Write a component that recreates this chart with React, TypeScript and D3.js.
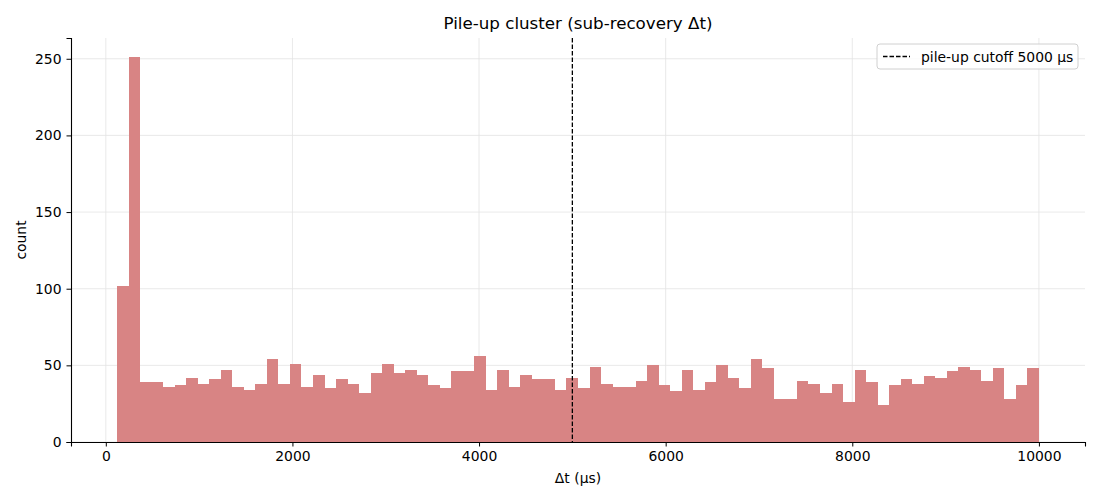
import { useEffect, useRef } from 'react';
import * as d3 from 'd3';

// Histogram counts, 80 equal bins from BIN_MIN to BIN_MAX (µs)
const BIN_MIN = 121;
const BIN_MAX = 10000;
const counts = [
  102, 251, 39, 39, 36, 37, 42, 38, 41, 47,
  36, 34, 38, 54, 38, 51, 36, 44, 35, 41,
  38, 32, 45, 51, 45, 47, 44, 37, 35, 46,
  46, 56, 34, 47, 36, 44, 41, 41, 34, 42,
  35, 49, 38, 36, 36, 40, 50, 37, 33, 47,
  34, 39, 50, 42, 35, 54, 48, 28, 28, 40,
  38, 32, 38, 26, 47, 39, 24, 37, 41, 38,
  43, 42, 46, 49, 47, 40, 48, 28, 37, 48,
];
const xTicks = [0, 2000, 4000, 6000, 8000, 10000];
const yTicks = [0, 50, 100, 150, 200, 250];
const CUTOFF = 5000;

const W = 1100;
const H = 500;
const margin = { top: 38, right: 15, bottom: 58, left: 71 };
const FONT = 'DejaVu Sans, sans-serif';
const FS = 13.9;

export default function App() {
  const svgRef = useRef<SVGSVGElement>(null);

  useEffect(() => {
    if (!svgRef.current) return;
    const svg = d3.select(svgRef.current);
    svg.selectAll('*').remove();

    const innerW = W - margin.left - margin.right;
    const innerH = H - margin.top - margin.bottom;
    const span = BIN_MAX - BIN_MIN;
    const binW = span / counts.length;
    const maxC = d3.max(counts) ?? 1;

    const x = d3.scaleLinear()
      .domain([BIN_MIN - span * 0.05, BIN_MAX + span * 0.05])
      .range([0, innerW]);
    const y = d3.scaleLinear()
      .domain([0, maxC * 1.05])
      .range([innerH, 0]);

    const g = svg.append('g').attr('transform', `translate(${margin.left},${margin.top})`);

    // grid
    g.selectAll('line.gx').data(xTicks).enter().append('line')
      .attr('x1', d => x(d)).attr('x2', d => x(d))
      .attr('y1', 0).attr('y2', innerH)
      .attr('stroke', '#e3e3e3').attr('stroke-width', 0.8);
    g.selectAll('line.gy').data(yTicks).enter().append('line')
      .attr('x1', 0).attr('x2', innerW)
      .attr('y1', d => y(d)).attr('y2', d => y(d))
      .attr('stroke', '#e3e3e3').attr('stroke-width', 0.8);

    // bars
    g.selectAll('rect.bar').data(counts).enter().append('rect')
      .attr('x', (_, i) => x(BIN_MIN + i * binW))
      .attr('width', (_, i) => x(BIN_MIN + (i + 1) * binW) - x(BIN_MIN + i * binW))
      .attr('y', d => y(d))
      .attr('height', d => innerH - y(d))
      .attr('fill', '#d88484')
      .attr('shape-rendering', 'crispEdges');

    // cutoff line
    g.append('line')
      .attr('x1', x(CUTOFF)).attr('x2', x(CUTOFF))
      .attr('y1', 0).attr('y2', innerH)
      .attr('stroke', '#000').attr('stroke-width', 1.3)
      .attr('stroke-dasharray', '4.5,2');

    // axes
    const xAxis = g.append('g').attr('transform', `translate(0,${innerH})`)
      .call(d3.axisBottom(x).tickValues(xTicks).tickFormat(d3.format('d')).tickSizeOuter(0).tickSize(4.5).tickPadding(5));
    const yAxis = g.append('g')
      .call(d3.axisLeft(y).tickValues(yTicks).tickFormat(d3.format('d')).tickSizeOuter(0).tickSize(4.5).tickPadding(5));
    [xAxis, yAxis].forEach(a => {
      a.selectAll('text').attr('font-family', FONT).attr('font-size', FS).attr('fill', '#000');
      a.selectAll('line').attr('stroke', '#000').attr('stroke-width', 1);
      a.select('.domain').attr('stroke', '#000').attr('stroke-width', 1.1);
    });

    // labels
    svg.append('text')
      .attr('x', margin.left + innerW / 2).attr('y', 29)
      .attr('text-anchor', 'middle').attr('font-family', FONT).attr('font-size', 16.7)
      .text('Pile-up cluster (sub-recovery Δt)');
    svg.append('text')
      .attr('x', margin.left + innerW / 2).attr('y', 483)
      .attr('text-anchor', 'middle').attr('font-family', FONT).attr('font-size', FS)
      .text('Δt (µs)');
    svg.append('text')
      .attr('transform', `translate(26,${margin.top + innerH / 2}) rotate(-90)`)
      .attr('text-anchor', 'middle').attr('font-family', FONT).attr('font-size', FS)
      .text('count');

    // legend
    const lg = svg.append('g').attr('transform', 'translate(877,44)');
    lg.append('rect')
      .attr('width', 201).attr('height', 25).attr('rx', 3)
      .attr('fill', '#fff').attr('fill-opacity', 0.8)
      .attr('stroke', '#d0d0d0');
    lg.append('line')
      .attr('x1', 6).attr('x2', 33).attr('y1', 12.5).attr('y2', 12.5)
      .attr('stroke', '#000').attr('stroke-width', 1.3).attr('stroke-dasharray', '4.5,2');
    lg.append('text')
      .attr('x', 44).attr('y', 17.5).attr('font-family', FONT).attr('font-size', FS)
      .text(`pile-up cutoff ${CUTOFF} µs`);
  }, []);

  return <svg ref={svgRef} width={W} height={H} style={{ display: 'block', margin: '-8px' }} />;
}
